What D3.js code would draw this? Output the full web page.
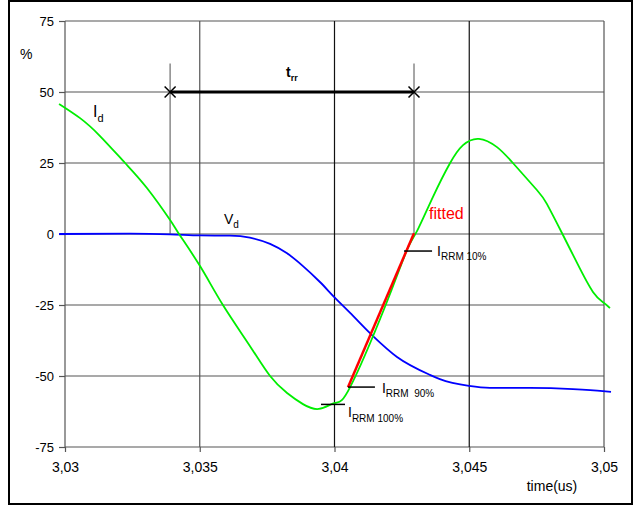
<!DOCTYPE html>
<html><head><meta charset="utf-8">
<script src="https://cdn.jsdelivr.net/npm/d3@7"></script>
<style>body{margin:0;background:#fff}text{font-family:Arial,"Liberation Sans",sans-serif}</style>
</head><body><svg id="c" width="635" height="506"></svg>
<script>
// ---- data ----
const xTicks = [3.03, 3.035, 3.04, 3.045, 3.05];
const xTickLabels = ["3,03", "3,035", "3,04", "3,045", "3,05"];
const yTicks = [-75, -50, -25, 0, 25, 50, 75];
const yTickLabels = ["-75", "-50", "-25", "0", "25", "50", "75"];

const idTime = [3.02978,3.03056,3.0313,3.03223,3.03304,3.0339,3.03423,3.03501,3.03586,3.03686,3.03761,3.03824,3.03883,3.03942,3.04002,3.04058,3.04187,3.04269,3.04306,3.04365,3.04429,3.04477,3.04536,3.04603,3.04662,3.04751,3.04788,3.04844,3.049,3.04959,3.05,3.05022];
const idValue = [45.8,40.8,34.5,25.0,16.2,4.9,0,-11.3,-25.0,-39.4,-50.0,-56.0,-59.9,-61.6,-59.5,-53.9,-25.7,-5.6,1.0,13.0,25.0,31.3,33.5,30.6,25.0,15.5,10.6,0.35,-10.2,-20.4,-24.3,-26.1];

const vdTime = [3.02978,3.03241,3.0339,3.03501,3.03612,3.03686,3.03761,3.03824,3.03883,3.03946,3.04002,3.04058,3.04139,3.04232,3.04354,3.04391,3.04499,3.04577,3.04725,3.04885,3.04996,3.05026];
const vdValue = [0,0.1,-0.1,-0.5,-0.6,-1.3,-3.5,-6.8,-11.3,-16.9,-22.5,-27.8,-35.6,-43.3,-49.6,-51.1,-53.5,-54.2,-54.2,-54.6,-55.3,-55.6];

const fitTime = [3.0405, 3.04295];
const fitValue = [-54, 0.3];

const trrTime = [3.0339, 3.04295];
const trrLevel = 50;
const markerTop = 60;

const leaders = [
  {t0: 3.04258, t1: 3.04362, v: -6.0},
  {t0: 3.0405, t1: 3.0415, v: -53.9},
  {t0: 3.0395, t1: 3.04039, v: -60}
];
const leaderMain = ["I", "I", "I"];
const leaderSub = ["RRM 10%", "RRM  90%", "RRM 100%"];

// ---- chart ----
const svg = d3.select("#c");
const x = d3.scaleLinear().domain([3.03, 3.05]).range([65, 604]);
const y = d3.scaleLinear().domain([-75, 75]).range([447, 21]);

svg.append("rect").attr("x", 9).attr("y", 1).attr("width", 623).attr("height", 503)
  .attr("fill", "none").attr("stroke", "#000").attr("stroke-width", 2);

// gridlines
svg.append("g").selectAll("line").data(yTicks).join("line")
  .attr("x1", x(3.03)).attr("x2", x(3.05)).attr("y1", d => y(d)).attr("y2", d => y(d))
  .attr("stroke", "#555").attr("stroke-width", 1.2);
svg.append("g").selectAll("line").data(xTicks).join("line")
  .attr("x1", d => x(d)).attr("x2", d => x(d)).attr("y1", y(75)).attr("y2", y(-75))
  .attr("stroke", (d, i) => (i === 2 || i === 3) ? "#111" : "#555").attr("stroke-width", 1.2);

// axes
const ya = d3.axisLeft(y).tickValues(yTicks).tickFormat((d, i) => yTickLabels[i]).tickSize(6).tickPadding(5);
const gy = svg.append("g").attr("transform", `translate(${x(3.03)},0)`).call(ya);
gy.select(".domain").remove();
gy.selectAll("line").attr("stroke", "#555").attr("stroke-width", 1.2);
gy.selectAll("text").attr("font-size", 13).attr("fill", "#000").attr("font-family", "Arial, 'Liberation Sans', sans-serif");

const xa = d3.axisBottom(x).tickValues(xTicks).tickFormat((d, i) => xTickLabels[i]).tickSize(5).tickPadding(10);
const gx = svg.append("g").attr("transform", `translate(0,${y(-75)})`).call(xa);
gx.select(".domain").remove();
gx.selectAll("line").attr("stroke", "#555").attr("stroke-width", 1.2);
gx.selectAll("text").attr("font-size", 14).attr("fill", "#000").attr("font-family", "Arial, 'Liberation Sans', sans-serif");

// t_rr marker vertical lines
svg.append("g").selectAll("line").data(trrTime).join("line")
  .attr("x1", d => x(d)).attr("x2", d => x(d)).attr("y1", y(markerTop)).attr("y2", y(0))
  .attr("stroke", "#777").attr("stroke-width", 1.3);
// thick t_rr line
svg.append("line").attr("x1", x(trrTime[0])).attr("x2", x(trrTime[1]))
  .attr("y1", y(trrLevel)).attr("y2", y(trrLevel)).attr("stroke", "#000").attr("stroke-width", 3);
// X markers
const xm = svg.append("g");
trrTime.forEach(t => {
  const cx = x(t), cy = y(trrLevel), s = 5.5;
  xm.append("path").attr("d", `M${cx-s},${cy-s}L${cx+s},${cy+s}M${cx-s},${cy+s}L${cx+s},${cy-s}`)
    .attr("stroke", "#000").attr("stroke-width", 1.5);
});

// curves
const lineV = d3.line().x(d => x(d[0])).y(d => y(d[1])).curve(d3.curveMonotoneX);
const lineI = d3.line().x(d => x(d[0])).y(d => y(d[1])).curve(d3.curveNatural);
svg.append("path").datum(d3.zip(vdTime, vdValue)).attr("d", lineV)
  .attr("fill", "none").attr("stroke", "#0000ff").attr("stroke-width", 1.8);
svg.append("path").datum(d3.zip(idTime, idValue)).attr("d", lineI)
  .attr("fill", "none").attr("stroke", "#00ee00").attr("stroke-width", 1.8);
svg.append("path").datum(d3.zip(fitTime, fitValue)).attr("d", d3.line().x(d => x(d[0])).y(d => y(d[1])))
  .attr("fill", "none").attr("stroke", "#ff0000").attr("stroke-width", 2.5);

// leaders and labels
leaders.forEach(l => {
  svg.append("line").attr("x1", x(l.t0)).attr("x2", x(l.t1)).attr("y1", y(l.v)).attr("y2", y(l.v))
    .attr("stroke", "#000").attr("stroke-width", 1.5);
});
function subLabel(px, py, main, sub, size, subSize, color, weight) {
  const t = svg.append("text").attr("x", px).attr("y", py).attr("font-size", size)
    .attr("fill", color || "#000").attr("font-weight", weight || "normal").style("white-space", "pre");
  t.append("tspan").text(main);
  t.append("tspan").attr("dy", size * 0.3).attr("font-size", subSize).text(sub);
  return t;
}
subLabel(x(leaders[0].t1) + 5, y(leaders[0].v) + 5, leaderMain[0], leaderSub[0], 14, 10);
subLabel(x(leaders[1].t1) + 7, y(leaders[1].v) + 6, leaderMain[1], leaderSub[1], 14, 10);
subLabel(x(leaders[2].t1) + 3, y(leaders[2].v) + 13, leaderMain[2], leaderSub[2], 14, 10);

subLabel(93, 117, "I", "d", 16, 11);
subLabel(224, 224, "V", "d", 14, 10);
subLabel(286, 77, "t", "rr", 14, 9, "#000", "bold");
svg.append("text").attr("x", 429).attr("y", 219).attr("font-size", 16).attr("fill", "#ff0000").text("fitted");
svg.append("text").attr("x", 20).attr("y", 59).attr("font-size", 14).text("%");
svg.append("text").attr("x", 552).attr("y", 491).attr("font-size", 14).attr("text-anchor", "middle").text("time(us)");
</script></body></html>
